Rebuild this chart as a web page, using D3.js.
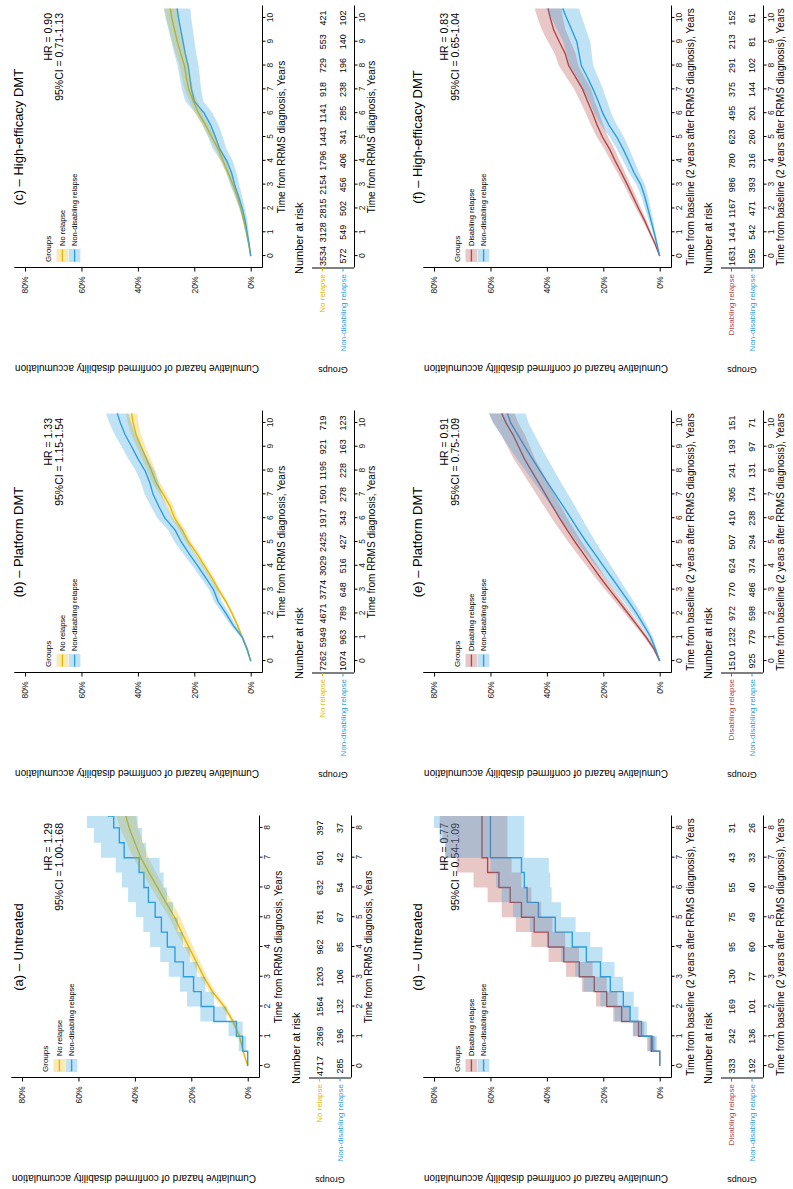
<!DOCTYPE html>
<html>
<head>
<meta charset="utf-8">
<script src="https://cdn.jsdelivr.net/npm/d3@7"></script>
<style>
  body { margin: 0; background: #fff; }
  svg { display: block; }
</style>
</head>
<body>
<div id="chart"></div>
<script>
// ---- time grids (years) ----
var t8 = [0, 0.5, 1, 1.5, 2, 2.5, 3, 3.5, 4, 4.5, 5, 5.5, 6, 6.5, 7, 7.5, 8, 8.4];
var t10 = [0, 0.5, 1, 1.5, 2, 2.5, 3, 3.5, 4, 4.5, 5, 5.5, 6, 6.5, 7, 7.5, 8, 8.5, 9, 9.5, 10, 10.4];

// ---- (a) Untreated: cumulative hazard (%) ----
var aNoRel   = [0, 1.6, 2.9, 5.2, 8.3, 12.5, 15.6, 18.2, 20.9, 23.5, 25.9, 29.0, 32.0, 35.0, 37.9, 40.0, 42.0, 43.2];
var aNoRelLo = [0, 1.3, 2.4, 4.5, 7.4, 11.4, 14.4, 16.8, 19.3, 21.7, 23.9, 26.8, 29.7, 32.5, 35.2, 37.1, 38.8, 39.7];
var aNoRelHi = [0, 1.9, 3.4, 5.9, 9.2, 13.6, 16.8, 19.6, 22.5, 25.3, 27.9, 31.2, 34.3, 37.5, 40.6, 42.9, 45.2, 46.7];
var aNonDis   = [0, 1.8, 4.0, 12.0, 16.5, 19.2, 22.8, 25.8, 28.5, 30.6, 32.8, 35.2, 36.8, 38.5, 43.8, 45.5, 47.5, 49.6];
var aNonDisLo = [0, 0.5, 1.8, 7.5, 12.0, 15.0, 18.0, 20.5, 23.0, 24.8, 26.5, 28.6, 29.8, 31.2, 36.0, 37.5, 39.0, 40.5];
var aNonDisHi = [0, 3.2, 6.8, 16.8, 21.5, 24.0, 28.0, 31.0, 34.6, 37.0, 39.6, 42.4, 44.6, 46.8, 52.0, 54.5, 57.0, 59.7];

// ---- (b) Platform DMT ----
var bNoRel   = [0, 1.2, 3.0, 4.7, 6.6, 8.8, 11.4, 13.8, 16.4, 19.0, 22.0, 24.2, 27.0, 28.6, 31.0, 33.6, 35.2, 37.0, 38.8, 40.6, 41.7, 42.2];
var bNoRelLo = [0, 1.0, 2.7, 4.3, 6.1, 8.2, 10.7, 13.0, 15.5, 18.1, 21.0, 23.1, 25.8, 27.4, 29.7, 32.2, 33.7, 35.4, 37.2, 38.9, 39.8, 40.2];
var bNoRelHi = [0, 1.4, 3.3, 5.1, 7.1, 9.4, 12.1, 14.6, 17.3, 19.9, 23.0, 25.3, 28.2, 29.8, 32.3, 35.0, 36.7, 38.6, 40.4, 42.3, 43.6, 44.2];
var bNonDis   = [0, 1.3, 3.0, 6.2, 8.8, 11.6, 13.2, 16.0, 18.8, 21.8, 24.6, 26.8, 30.4, 32.6, 34.6, 35.8, 37.5, 40.0, 42.2, 44.5, 46.2, 47.3];
var bNonDisLo = [0, 0.9, 2.5, 5.3, 7.6, 10.2, 11.7, 14.3, 16.9, 19.7, 22.2, 24.3, 27.7, 29.8, 31.6, 32.7, 34.2, 36.6, 38.7, 40.8, 42.3, 43.3];
var bNonDisHi = [0, 1.7, 3.5, 7.1, 10.0, 13.0, 14.7, 17.7, 20.7, 23.9, 27.0, 29.3, 33.1, 35.4, 37.6, 38.9, 40.8, 43.4, 45.7, 48.2, 50.1, 51.3];

// ---- (c) High-efficacy DMT ----
var cNoRel   = [0, 0.7, 1.5, 2.5, 3.5, 4.8, 6.3, 8.0, 9.8, 11.5, 13.8, 16.0, 18.5, 20.3, 22.0, 22.8, 23.5, 24.8, 26.0, 27.0, 28.0, 28.5];
var cNoRelLo = [0, 0.5, 1.2, 2.1, 3.0, 4.2, 5.6, 7.2, 8.9, 10.5, 12.7, 14.8, 17.2, 18.9, 20.5, 21.2, 21.8, 23.0, 24.1, 25.0, 25.9, 26.3];
var cNoRelHi = [0, 0.9, 1.8, 2.9, 4.0, 5.4, 7.0, 8.8, 10.7, 12.5, 14.9, 17.2, 19.8, 21.7, 23.5, 24.4, 25.2, 26.6, 27.9, 29.0, 30.1, 30.7];
var cNonDis   = [0, 0.6, 1.3, 2.0, 3.0, 4.3, 5.7, 6.8, 8.5, 11.0, 12.5, 14.2, 16.5, 20.0, 21.0, 21.6, 22.2, 23.2, 24.0, 24.8, 25.6, 26.1];
var cNonDisLo = [0, 0.2, 0.7, 1.2, 2.0, 3.0, 4.1, 5.0, 6.4, 8.6, 9.9, 11.4, 13.5, 16.8, 17.6, 18.0, 18.5, 19.3, 19.9, 20.5, 21.1, 21.4];
var cNonDisHi = [0, 1.0, 1.9, 2.8, 4.0, 5.6, 7.3, 8.6, 10.6, 13.4, 15.1, 17.0, 19.5, 23.2, 24.4, 25.2, 25.9, 27.1, 28.1, 29.1, 30.1, 30.8];

// ---- (d) Untreated, from baseline ----
var dDis   = [0, 3.0, 7.5, 13.5, 18.8, 23.2, 28.5, 34.0, 39.5, 44.5, 49.0, 53.0, 57.0, 61.0, 63.0, 63.0, 63.0, 63.0];
var dDisLo = [0, 1.5, 5.5, 10.5, 15.0, 18.8, 23.8, 28.6, 33.5, 38.0, 42.0, 45.5, 49.0, 52.5, 54.0, 54.0, 54.0, 54.0];
var dDisHi = [0, 4.5, 9.5, 16.5, 22.6, 27.6, 33.2, 39.4, 45.5, 51.0, 56.0, 61.0, 66.0, 72.0, 76.0, 77.0, 78.0, 78.0];
var dNonDis   = [0, 2.5, 6.5, 10.5, 12.9, 17.5, 21.0, 26.0, 31.0, 37.0, 43.0, 47.0, 48.0, 49.0, 60.0, 60.0, 60.0, 60.0];
var dNonDisLo = [0, 1.0, 4.5, 7.5, 9.2, 13.0, 16.0, 20.3, 24.6, 29.8, 35.0, 38.3, 38.8, 39.3, 48.0, 48.0, 48.0, 48.0];
var dNonDisHi = [0, 4.0, 9.5, 16.0, 21.0, 27.0, 30.0, 35.0, 40.0, 46.0, 52.0, 56.0, 58.0, 60.0, 76.0, 78.0, 80.0, 80.0];

// ---- (e) Platform DMT, from baseline ----
var eDis   = [0, 2.0, 4.8, 8.0, 11.2, 14.5, 17.8, 21.0, 24.0, 27.0, 30.0, 32.8, 35.5, 38.0, 40.5, 43.0, 45.5, 48.0, 50.0, 52.0, 54.5, 56.0];
var eDisLo = [0, 1.5, 4.1, 7.0, 10.0, 13.1, 16.2, 19.2, 22.0, 24.8, 27.6, 30.2, 32.7, 35.0, 37.3, 39.6, 41.9, 44.2, 46.0, 47.8, 50.1, 51.5];
var eDisHi = [0, 2.5, 5.5, 9.0, 12.4, 15.9, 19.4, 22.8, 26.0, 29.2, 32.4, 35.4, 38.3, 41.0, 43.7, 46.4, 49.1, 51.8, 54.0, 56.2, 58.9, 60.5];
var eNonDis   = [0, 1.5, 3.2, 5.6, 8.2, 11.0, 14.0, 17.0, 20.0, 23.0, 26.0, 28.8, 31.5, 34.2, 37.0, 39.8, 42.5, 45.2, 47.8, 50.3, 52.8, 54.0];
var eNonDisLo = [0, 1.0, 2.4, 4.5, 6.7, 9.2, 11.9, 14.6, 17.3, 20.0, 22.7, 25.2, 27.6, 30.0, 32.5, 35.0, 37.4, 39.8, 42.1, 44.3, 46.5, 47.5];
var eNonDisHi = [0, 2.0, 4.0, 6.7, 9.7, 12.8, 16.1, 19.4, 22.7, 26.0, 29.3, 32.4, 35.4, 38.4, 41.5, 44.6, 47.6, 50.6, 53.5, 56.3, 59.1, 60.5];

// ---- (f) High-efficacy DMT, from baseline ----
var fDis   = [0, 1.6, 3.5, 5.4, 7.5, 9.5, 11.5, 13.6, 15.8, 17.8, 20.3, 22.2, 23.8, 25.6, 27.3, 29.8, 32.3, 33.5, 35.6, 37.6, 38.8, 39.6];
var fDisLo = [0, 1.3, 3.0, 4.7, 6.6, 8.4, 10.3, 12.2, 14.2, 16.0, 18.3, 20.0, 21.4, 23.0, 24.3, 26.6, 28.8, 29.8, 31.6, 33.4, 34.3, 34.9];
var fDisHi = [0, 1.9, 4.0, 6.1, 8.4, 10.6, 12.7, 15.0, 17.4, 19.6, 22.3, 24.4, 26.2, 28.2, 30.3, 33.0, 35.8, 37.2, 39.6, 41.8, 43.3, 44.3];
var fNonDis   = [0, 1.0, 2.0, 3.1, 4.2, 5.3, 6.7, 9.1, 11.0, 13.0, 15.2, 18.0, 20.2, 21.8, 23.6, 25.6, 27.8, 28.6, 29.4, 31.2, 33.0, 34.4];
var fNonDisLo = [0, 0.6, 1.5, 2.3, 3.2, 4.1, 5.2, 7.3, 9.0, 10.8, 12.7, 15.2, 17.2, 18.6, 20.1, 21.8, 23.6, 24.1, 24.6, 26.1, 27.5, 28.6];
var fNonDisHi = [0, 1.4, 2.5, 3.9, 5.2, 6.5, 8.2, 10.9, 13.0, 15.2, 17.7, 20.8, 23.2, 25.0, 27.1, 29.4, 32.0, 33.1, 34.2, 36.3, 38.5, 40.2];

// ---- number at risk, at whole years ----
var aRiskNoRel  = [4717, 2369, 1564, 1203, 962, 781, 632, 501, 397];
var aRiskNonDis = [285, 196, 132, 106, 85, 67, 54, 42, 37];
var bRiskNoRel  = [7262, 5949, 4671, 3774, 3029, 2425, 1917, 1501, 1195, 921, 719];
var bRiskNonDis = [1074, 963, 789, 648, 516, 427, 343, 278, 228, 163, 123];
var cRiskNoRel  = [3534, 3128, 2815, 2154, 1796, 1443, 1141, 918, 729, 553, 421];
var cRiskNonDis = [572, 549, 502, 456, 406, 341, 285, 238, 196, 140, 102];
var dRiskDis    = [333, 242, 169, 130, 95, 75, 55, 43, 31];
var dRiskNonDis = [192, 136, 101, 77, 60, 49, 40, 33, 26];
var eRiskDis    = [1510, 1232, 972, 770, 624, 507, 410, 305, 241, 193, 151];
var eRiskNonDis = [925, 779, 598, 486, 374, 294, 238, 174, 131, 97, 71];
var fRiskDis    = [1631, 1414, 1167, 986, 780, 623, 495, 375, 291, 213, 152];
var fRiskNonDis = [595, 542, 471, 393, 316, 260, 201, 144, 102, 81, 61];

// ---- labels ----
var panelTitles = ["(a) \u2013 Untreated", "(b) \u2013 Platform DMT", "(c) \u2013 High-efficacy DMT",
                   "(d) \u2013 Untreated", "(e) \u2013 Platform DMT", "(f) \u2013 High-efficacy DMT"];
var hrLabels = ["HR = 1.29", "HR = 1.33", "HR = 0.90", "HR = 0.77", "HR = 0.91", "HR = 0.83"];
var ciLabels = ["95%CI = 1.00-1.68", "95%CI = 1.15-1.54", "95%CI = 0.71-1.13",
                "95%CI = 0.54-1.09", "95%CI = 0.75-1.09", "95%CI = 0.65-1.04"];
var xTitles = ["Time from RRMS diagnosis, Years", "Time from baseline (2 years after RRMS diagnosis), Years"];
var yTicks = [0, 20, 40, 60, 80];

var orange = "#E7B800", blue = "#2E9FDF", red = "#B24745";
var font = "'Liberation Sans', Arial, Helvetica, sans-serif";

function grp(name, color, est, lo, hi, risk, step) {
    return { name: name, color: color, est: est, lo: lo, hi: hi, risk: risk, step: step };
}

var panels = [
    { col: 0, row: 0, tmax: 8, times: t8, dy: -3, groups: [
        grp("No relapse", orange, aNoRel, aNoRelLo, aNoRelHi, aRiskNoRel, false),
        grp("Non-disabling relapse", blue, aNonDis, aNonDisLo, aNonDisHi, aRiskNonDis, true)] },
    { col: 1, row: 0, tmax: 10, times: t10, dy: 0, groups: [
        grp("No relapse", orange, bNoRel, bNoRelLo, bNoRelHi, bRiskNoRel, false),
        grp("Non-disabling relapse", blue, bNonDis, bNonDisLo, bNonDisHi, bRiskNonDis, false)] },
    { col: 2, row: 0, tmax: 10, times: t10, dy: 0, groups: [
        grp("No relapse", orange, cNoRel, cNoRelLo, cNoRelHi, cRiskNoRel, false),
        grp("Non-disabling relapse", blue, cNonDis, cNonDisLo, cNonDisHi, cRiskNonDis, false)] },
    { col: 0, row: 1, tmax: 8, times: t8, dy: 0, groups: [
        grp("Disabling relapse", red, dDis, dDisLo, dDisHi, dRiskDis, true),
        grp("Non-disabling relapse", blue, dNonDis, dNonDisLo, dNonDisHi, dRiskNonDis, true)] },
    { col: 1, row: 1, tmax: 10, times: t10, dy: 0, groups: [
        grp("Disabling relapse", red, eDis, eDisLo, eDisHi, eRiskDis, false),
        grp("Non-disabling relapse", blue, eNonDis, eNonDisLo, eNonDisHi, eRiskNonDis, false)] },
    { col: 2, row: 1, tmax: 10, times: t10, dy: 0, groups: [
        grp("Disabling relapse", red, fDis, fDisLo, fDisHi, fRiskDis, false),
        grp("Non-disabling relapse", blue, fNonDis, fNonDisLo, fNonDisHi, fRiskNonDis, false)] }
];

var W = 793, H = 1189;
var svg = d3.select("#chart").append("svg")
    .attr("width", W).attr("height", H)
    .style("font-family", font);
svg.append("rect").attr("width", W).attr("height", H).attr("fill", "#fff");

// the figure is laid out landscape and turned a quarter turn
var frame = svg.append("g").attr("transform", "translate(0," + H + ") rotate(-90)");
var defs = svg.append("defs");

var titleY = [18.5, 417.5];
var hrY = [48, 444];

function styleAxis(sel, size) {
    sel.attr("font-family", null).attr("font-size", null);
    sel.select(".domain").attr("stroke", "#000").attr("stroke-width", 1);
    sel.selectAll(".tick line").attr("stroke", "#000");
    sel.selectAll(".tick text").attr("fill", "#222").style("font-size", size + "px");
}

function label(x, y, txt, size, anchor, color, rot) {
    var t = frame.append("text")
        .attr("x", x).attr("y", y).attr("dy", "0.35em")
        .attr("text-anchor", anchor || "start")
        .attr("fill", color || "#000")
        .style("font-size", size + "px")
        .text(txt);
    if (rot) t.attr("transform", "rotate(" + rot + "," + x + "," + y + ")");
    return t;
}

panels.forEach(function(p, pi) {
    var X0 = p.col * 405;
    var Y0 = p.row * 409 + p.dy;
    var x = d3.scaleLinear().domain([-0.05 * p.tmax, 1.05 * p.tmax]).range([X0 + 111, X0 + 373]);
    var y = d3.scaleLinear().domain([-4, 84]).range([Y0 + 262, Y0 + 13.75]);

    // title and hazard ratio
    label(X0 + 242, titleY[p.row], panelTitles[pi], 13, "middle");
    label(X0 + 366, hrY[p.row], hrLabels[pi], 10.5, "end");
    label(X0 + 366, hrY[p.row] + 11.5, ciLabels[pi], 10.5, "end");

    // curves, clipped to the plot panel
    var cid = "clip" + pi;
    defs.append("clipPath").attr("id", cid).append("rect")
        .attr("x", X0 + 111).attr("y", Y0 + 13.75).attr("width", 262).attr("height", 248.25);
    var plot = frame.append("g").attr("clip-path", "url(#" + cid + ")");

    p.groups.forEach(function(g) {
        var line = d3.line()
            .x(function(d, i) { return x(p.times[i]); })
            .y(function(d) { return y(d); })
            .curve(g.step ? d3.curveStepAfter : d3.curveLinear);
        plot.append("path").attr("d", line(g.est))
            .attr("fill", "none").attr("stroke", g.color).attr("stroke-width", 1.4);
    });
    p.groups.forEach(function(g) {
        var area = d3.area()
            .x(function(d) { return x(d); })
            .y0(function(d, i) { return y(g.lo[i]); })
            .y1(function(d, i) { return y(g.hi[i]); })
            .curve(g.step ? d3.curveStepAfter : d3.curveLinear);
        plot.append("path").attr("d", area(p.times))
            .attr("fill", g.color).attr("fill-opacity", 0.3);
    });

    // axes
    frame.append("g").attr("transform", "translate(0," + (Y0 + 262) + ")")
        .call(d3.axisBottom(x).tickValues(d3.range(0, p.tmax + 1)).tickSize(3.5).tickSizeOuter(0).tickPadding(1.5))
        .call(styleAxis, 8.5);
    frame.append("g").attr("transform", "translate(" + (X0 + 111) + ",0)")
        .call(d3.axisLeft(y).tickValues(yTicks).tickFormat(function(d) { return d + "%"; })
            .tickSize(3.5).tickSizeOuter(0).tickPadding(5))
        .call(styleAxis, 8.5);

    label(X0 + 242, Y0 + 281, xTitles[p.row], 10, "middle");
    label(X0 + 11, Y0 + 137, "Cumulative hazard of confirmed disability accumulation", 10, "middle", "#000", -90);

    // legend inside the panel
    label(X0 + 117, Y0 + 48, "Groups", 8, "start");
    p.groups.forEach(function(g, k) {
        var ky = Y0 + 56.5 + 12.2 * k;
        frame.append("rect").attr("x", X0 + 117).attr("y", ky).attr("width", 13).attr("height", 11.7)
            .attr("fill", g.color).attr("fill-opacity", 0.3);
        frame.append("line").attr("x1", X0 + 117.5).attr("x2", X0 + 129.5)
            .attr("y1", ky + 5.9).attr("y2", ky + 5.9)
            .attr("stroke", g.color).attr("stroke-width", 1.4);
        label(X0 + 133, ky + 5.9, g.name, 7.5, "start");
    });

    // risk table
    label(X0 + 105, Y0 + 299, "Number at risk", 11, "start");
    var rowY = [Y0 + 322.5, Y0 + 343];
    frame.append("line").attr("x1", X0 + 111).attr("x2", X0 + 111)
        .attr("y1", Y0 + 312).attr("y2", Y0 + 354).attr("stroke", "#000");
    p.groups.forEach(function(g, k) {
        frame.append("line").attr("x1", X0 + 107.5).attr("x2", X0 + 111)
            .attr("y1", rowY[k]).attr("y2", rowY[k]).attr("stroke", g.color);
        label(X0 + 105, rowY[k], g.name, 8, "end", g.color);
        g.risk.forEach(function(n, i) {
            label(x(i), rowY[k], n, 9, "middle", "#000");
        });
    });
    frame.append("g").attr("transform", "translate(0," + (Y0 + 354) + ")")
        .call(d3.axisBottom(x).tickValues(d3.range(0, p.tmax + 1)).tickSize(3.5).tickSizeOuter(0).tickPadding(1.5))
        .call(styleAxis, 8.5);
    label(X0 + 242, Y0 + 371, xTitles[p.row], 10, "middle");
    label(X0 + 9, Y0 + 333, "Groups", 9, "middle", "#000", -90);
});
</script>
</body>
</html>
